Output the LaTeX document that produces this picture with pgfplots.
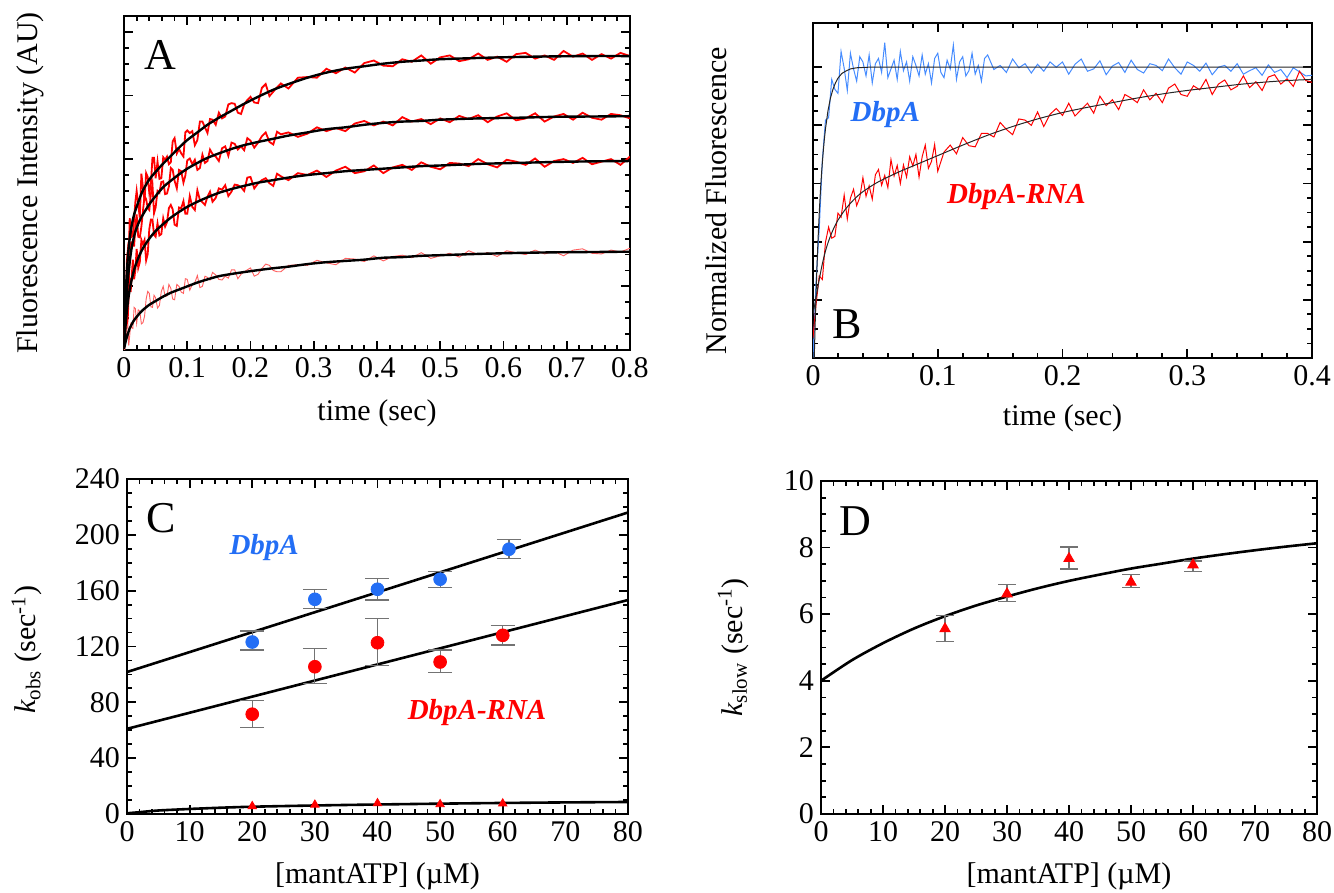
\documentclass[border=0pt]{standalone}
\usepackage{fontspec}
\setmainfont{Liberation Serif}
\usepackage{pgfplots}
\usepackage{pgfplotstable}
\pgfplotsset{compat=1.18}

\definecolor{kred}{RGB}{255,0,0}
\definecolor{kpink}{RGB}{255,95,95}
\definecolor{kblue}{RGB}{70,140,255}
\definecolor{kbluetxt}{RGB}{35,110,245}
\definecolor{kgray}{RGB}{115,115,115}

\pgfplotsset{
  panel/.style={
    scale only axis, anchor=south west,
    axis line style={line width=1.1pt},
    tick align=inside,
    major tick length=4.5pt, minor tick length=2.3pt,
    tick style={black, line width=0.9pt},
    tick label style={font=\fontsize{15}{18}\selectfont},
    label style={font=\fontsize{15}{18}\selectfont},
    /pgf/number format/assume math mode=true,
    xlabel style={at={(axis description cs:0.5,-0.19)}, anchor=center},
  },
}

% panel A: four traces (noisy) and their fits
\pgfplotstableread{
t a1 a2 a3 a4
0 0.26 0.32 0.00 0.00
0.0015 0.22 0.25 0.40 0.01
0.003 0.65 0.64 0.54 0.23
0.0045 1.40 0.92 0.36 0.38
0.006 1.56 0.86 0.51 0.40
0.0075 1.43 0.97 0.88 0.07
0.009 2.07 1.56 1.13 0.22
0.0105 1.96 1.68 0.91 0.40
0.012 1.78 1.69 1.13 0.35
0.014 1.80 1.64 1.42 0.34
0.016 2.06 1.64 1.11 0.67
0.018 2.33 1.95 1.26 0.65
0.020 2.50 2.13 1.59 0.42
0.0225 2.29 1.78 1.29 0.63
0.025 2.08 1.77 1.38 0.61
0.0275 2.77 1.94 1.73 0.41
0.030 2.55 2.19 1.66 0.43
0.0325 2.35 2.42 1.73 0.53
0.035 2.78 2.37 1.41 0.80
0.0375 2.72 2.23 1.51 0.92
0.040 2.47 2.20 1.90 0.89
0.0425 2.61 2.45 2.05 0.68
0.045 3.02 2.60 2.05 0.67
0.0475 3.02 2.15 1.81 0.86
0.050 2.70 2.24 1.78 0.82
0.053 2.96 2.50 1.99 0.66
0.056 2.69 2.47 1.80 0.70
0.059 2.70 2.64 1.82 0.92
0.062 3.03 2.65 2.07 1.00
0.065 2.99 2.45 1.94 0.84
0.068 3.04 2.46 2.01 0.85
0.071 2.92 2.57 2.23 1.03
0.074 2.95 2.86 2.28 0.97
0.077 3.28 2.83 2.21 0.80
0.080 3.33 2.66 1.97 0.79
0.0835 3.09 2.54 1.95 1.03
0.087 3.16 2.83 2.24 1.00
0.0905 3.09 2.81 2.23 0.91
0.094 3.04 2.63 2.34 0.89
0.097 3.42 2.74 2.14 1.12
0.100 3.45 2.98 2.14 1.11
0.104 3.41 3.01 2.42 0.94
0.108 3.44 2.92 2.25 1.03
0.112 3.22 2.99 2.20 1.06
0.116 3.30 2.83 2.51 1.17
0.120 3.59 2.86 2.36 0.98
0.124 3.59 3.07 2.32 1.00
0.128 3.50 2.94 2.28 1.16
0.132 3.41 2.97 2.41 1.14
0.136 3.63 3.15 2.49 1.10
0.140 3.62 3.08 2.33 1.22
0.145 3.54 3.04 2.39 1.18
0.150 3.73 2.97 2.54 1.11
0.155 3.64 3.17 2.52 1.10
0.160 3.67 3.20 2.59 1.16
0.165 3.86 3.05 2.42 1.13
0.170 3.88 3.26 2.49 1.26
0.175 3.87 3.24 2.60 1.26
0.180 3.73 3.15 2.59 1.12
0.185 3.71 3.20 2.56 1.19
0.190 3.86 3.14 2.50 1.23
0.195 3.93 3.33 2.71 1.26
0.200 3.98 3.29 2.72 1.29
0.206 3.89 3.18 2.54 1.16
0.212 3.88 3.26 2.62 1.19
0.218 4.12 3.36 2.67 1.28
0.224 4.18 3.42 2.70 1.35
0.230 3.99 3.27 2.62 1.33
0.236 4.06 3.23 2.58 1.25
0.242 4.13 3.43 2.77 1.23
0.248 4.19 3.39 2.73 1.23
0.260 4.11 3.42 2.67 1.33
0.275 4.28 3.35 2.78 1.34
0.290 4.29 3.40 2.75 1.33
0.305 4.28 3.50 2.82 1.41
0.320 4.42 3.44 2.72 1.37
0.335 4.35 3.49 2.82 1.34
0.350 4.44 3.44 2.88 1.44
0.365 4.36 3.56 2.78 1.43
0.380 4.51 3.60 2.81 1.39
0.395 4.55 3.53 2.90 1.48
0.410 4.47 3.59 2.78 1.40
0.425 4.46 3.53 2.87 1.47
0.440 4.57 3.66 2.91 1.49
0.455 4.53 3.59 2.83 1.45
0.470 4.63 3.63 2.95 1.53
0.485 4.50 3.55 2.88 1.44
0.500 4.60 3.64 2.84 1.48
0.515 4.63 3.58 2.94 1.52
0.530 4.54 3.68 2.93 1.46
0.545 4.57 3.63 2.89 1.56
0.560 4.66 3.69 3.00 1.50
0.575 4.56 3.58 2.92 1.53
0.590 4.61 3.67 2.87 1.47
0.605 4.53 3.72 2.99 1.56
0.620 4.65 3.61 2.96 1.53
0.635 4.67 3.64 2.91 1.50
0.650 4.58 3.72 3.01 1.57
0.665 4.63 3.59 2.88 1.51
0.680 4.56 3.67 2.97 1.55
0.695 4.70 3.71 3.00 1.48
0.710 4.61 3.62 2.94 1.57
0.725 4.66 3.73 3.02 1.59
0.740 4.56 3.65 2.92 1.52
0.755 4.65 3.62 2.96 1.51
0.770 4.58 3.71 3.00 1.57
0.785 4.67 3.69 2.91 1.54
0.800 4.62 3.64 3.04 1.60
}\traceA

\pgfplotstableread{
t f1 f2 f3 f4
0 0.05 0.05 0.05 0.02
0.003 0.93 0.67 0.45 0.15
0.006 1.45 1.10 0.75 0.25
0.009 1.75 1.38 0.95 0.34
0.012 1.95 1.60 1.1 0.40
0.016 2.13 1.79 1.26 0.47
0.020 2.25 1.92 1.38 0.52
0.025 2.39 2.04 1.5 0.58
0.030 2.51 2.13 1.6 0.63
0.040 2.68 2.29 1.75 0.71
0.050 2.80 2.42 1.87 0.77
0.062 2.93 2.56 1.98 0.84
0.074 3.05 2.66 2.08 0.90
0.087 3.18 2.76 2.17 0.95
0.100 3.30 2.85 2.25 1.00
0.116 3.42 2.94 2.33 1.06
0.132 3.54 3.02 2.40 1.11
0.150 3.65 3.09 2.47 1.16
0.170 3.76 3.16 2.53 1.195
0.190 3.87 3.22 2.58 1.225
0.212 3.98 3.27 2.63 1.255
0.236 4.09 3.32 2.67 1.285
0.260 4.18 3.37 2.71 1.31
0.290 4.28 3.42 2.75 1.35
0.320 4.36 3.47 2.78 1.38
0.350 4.42 3.50 2.81 1.40
0.380 4.46 3.54 2.83 1.42
0.410 4.50 3.57 2.85 1.45
0.440 4.53 3.59 2.87 1.46
0.470 4.55 3.60 2.89 1.48
0.500 4.57 3.62 2.90 1.49
0.560 4.59 3.64 2.925 1.51
0.620 4.605 3.65 2.94 1.525
0.680 4.615 3.665 2.955 1.535
0.740 4.62 3.67 2.965 1.54
0.800 4.62 3.675 2.97 1.545
}\fitA

% panel B
\pgfplotstableread{
t y
0 0.0
0.0025 1.35
0.005 2.22
0.0075 3.40
0.01 4.09
0.0125 4.13
0.015 4.79
0.0175 4.62
0.02 4.55
0.0225 5.27
0.025 4.98
0.0275 4.60
0.03 5.24
0.0325 4.97
0.035 4.76
0.0375 5.18
0.04 5.09
0.0425 4.85
0.045 5.21
0.0475 4.73
0.05 5.06
0.0525 5.15
0.055 4.91
0.0575 5.42
0.06 4.82
0.0625 4.97
0.065 5.12
0.0675 4.79
0.07 5.27
0.0725 4.94
0.075 5.09
0.0775 4.76
0.08 5.18
0.0825 5.03
0.085 4.85
0.0875 5.21
0.09 4.88
0.0925 5.06
0.095 4.73
0.0975 5.15
0.1 5.24
0.1025 4.91
0.105 4.82
0.1075 5.12
0.11 4.97
0.1125 5.38
0.115 4.79
0.1175 5.09
0.12 5.18
0.1225 4.85
0.125 4.94
0.1275 5.24
0.13 4.88
0.1325 5.03
0.135 4.76
0.1375 5.15
0.14 5.21
0.145 4.96
0.15 5.03
0.155 4.91
0.16 5.14
0.165 4.99
0.17 5.06
0.175 4.90
0.18 5.05
0.185 4.93
0.19 5.09
0.195 5.00
0.2 5.09
0.205 4.88
0.21 5.05
0.215 5.14
0.22 4.93
0.225 4.97
0.23 5.11
0.235 4.87
0.24 5.02
0.245 5.08
0.25 4.91
0.255 5.12
0.26 4.96
0.265 4.90
0.27 5.06
0.275 5.03
0.28 4.94
0.285 5.14
0.29 4.99
0.295 4.88
0.3 5.09
0.305 5.03
0.31 4.93
0.315 5.07
0.32 4.87
0.325 5.00
0.33 5.03
0.335 4.93
0.34 5.06
0.345 4.88
0.35 4.94
0.355 4.99
0.36 4.86
0.365 5.04
0.37 4.91
0.375 4.96
0.38 4.82
0.385 4.99
0.39 4.92
0.395 4.85
0.4 4.86
}\blueB

\pgfplotstableread{
t y
0 0.35
0.0025 0.93
0.005 1.41
0.0075 1.35
0.01 1.99
0.0125 2.25
0.015 2.06
0.0175 2.09
0.02 2.49
0.0225 2.42
0.025 2.80
0.0275 2.39
0.03 2.75
0.0325 2.90
0.035 2.62
0.0375 2.76
0.04 3.10
0.0425 2.78
0.045 2.96
0.0475 2.73
0.05 3.15
0.0525 3.24
0.055 2.97
0.0575 3.14
0.06 2.93
0.0625 3.41
0.065 3.13
0.0675 3.31
0.07 3.00
0.0725 3.32
0.075 3.11
0.0775 3.46
0.08 3.30
0.0825 3.50
0.085 3.11
0.0875 3.46
0.09 3.66
0.0925 3.26
0.095 3.38
0.0975 3.67
0.1 3.21
0.105 3.54
0.11 3.66
0.115 3.51
0.12 3.79
0.125 3.65
0.13 3.63
0.135 3.86
0.14 3.86
0.145 3.80
0.15 4.05
0.155 3.93
0.16 3.84
0.165 4.11
0.17 4.09
0.175 4.00
0.18 4.23
0.185 3.98
0.19 4.19
0.195 4.29
0.2 4.17
0.205 4.38
0.21 4.16
0.215 4.27
0.22 4.38
0.225 4.21
0.23 4.50
0.235 4.34
0.24 4.44
0.245 4.27
0.25 4.53
0.255 4.47
0.26 4.39
0.265 4.61
0.27 4.44
0.275 4.55
0.28 4.39
0.285 4.64
0.29 4.71
0.295 4.53
0.3 4.50
0.305 4.68
0.31 4.61
0.315 4.79
0.32 4.53
0.325 4.71
0.33 4.78
0.335 4.61
0.34 4.67
0.345 4.85
0.35 4.65
0.355 4.75
0.36 4.60
0.365 4.83
0.37 4.87
0.375 4.71
0.38 4.80
0.385 4.67
0.39 4.93
0.395 4.77
0.4 4.74
}\redB

\pgfplotstableread{
t y
0 0
0.001 0
0.002 0.79
0.003 1.46
0.004 2.02
0.005 2.49
0.006 2.89
0.007 3.22
0.008 3.50
0.009 3.74
0.010 3.94
0.012 4.25
0.014 4.47
0.016 4.62
0.018 4.73
0.020 4.81
0.023 4.89
0.026 4.93
0.030 4.97
0.035 4.99
0.045 5.0
0.4 5.0
}\bluefitB

\pgfplotstableread{
t y
0 0.75
0.0025 1.05
0.005 1.35
0.0075 1.62
0.01 1.84
0.0125 2.01
0.015 2.15
0.0175 2.27
0.02 2.37
0.025 2.53
0.03 2.66
0.035 2.77
0.04 2.86
0.05 3.00
0.06 3.11
0.07 3.21
0.08 3.30
0.09 3.39
0.1 3.48
0.12 3.66
0.14 3.83
0.16 3.98
0.18 4.11
0.2 4.22
0.22 4.31
0.24 4.39
0.26 4.47
0.28 4.54
0.3 4.60
0.32 4.65
0.34 4.70
0.36 4.74
0.38 4.77
0.4 4.79
}\redfitB

% panels C and D
\pgfplotstableread{
x y ep em
20 123.2 7.9 5.7
30 153.8 7.2 6.8
40 161.0 7.9 7.7
50 168.2 5.5 5.8
61 189.7 7.0 6.4
}\kobsBlue

\pgfplotstableread{
x y ep em
20 71.5 9.8 9.3
30 105.5 13.2 12.0
40 122.7 17.3 16.2
50 108.9 8.6 7.7
60 128.0 7.2 7.0
}\kobsRed

\pgfplotstableread{
x y ep em
20 5.56 0.41 0.37
30 6.61 0.28 0.23
40 7.67 0.35 0.31
50 6.96 0.23 0.17
60 7.48 0.12 0.20
}\kslow

\pgfplotstableread{
x y
0 4.00
5 4.62
10 5.13
15 5.57
20 5.94
25 6.26
30 6.53
35 6.78
40 7.00
45 7.19
50 7.37
55 7.52
60 7.67
65 7.80
70 7.92
75 8.03
80 8.13
}\kslowfit

\pgfplotstableread{
x y
0 0.5
2 1.3
5 2.5
10 3.6
15 4.5
20 5.2
30 6.1
40 6.8
50 7.4
60 7.9
70 8.3
80 8.6
}\kslowfitC

\begin{document}
\begin{tikzpicture}
\path[use as bounding box] (0,0) rectangle (667pt,446.5pt);

% ---- A ----
\begin{axis}[panel, at={(62pt,271.5pt)}, width=253pt, height=167pt,
  xmin=0, xmax=0.8, ymin=0, ymax=5.25,
  xtick={0,0.1,0.2,0.3,0.4,0.5,0.6,0.7,0.8}, minor x tick num=4,
  ytick={0,1,2,3,4,5}, minor y tick num=3, yticklabels={},
  xlabel={time (sec)}, ylabel={Fluorescence Intensity (AU)},
  ylabel style={at={(axis description cs:-0.186,0.5)}, anchor=center},
]
\addplot[kred, line width=0.9pt] table[x=t, y=a1] {\traceA};
\addplot[kred, line width=0.9pt] table[x=t, y=a2] {\traceA};
\addplot[kred, line width=0.9pt] table[x=t, y=a3] {\traceA};
\addplot[kpink, line width=0.45pt] table[x=t, y=a4] {\traceA};
\addplot[black, line width=1.2pt, smooth] table[x=t, y=f1] {\fitA};
\addplot[black, line width=1.2pt, smooth] table[x=t, y=f2] {\fitA};
\addplot[black, line width=1.2pt, smooth] table[x=t, y=f3] {\fitA};
\addplot[black, line width=1.2pt, smooth] table[x=t, y=f4] {\fitA};
\node[font=\fontsize{22}{24}\selectfont] at (axis cs:0.058,4.63) {A};
\end{axis}

% ---- B ----
\begin{axis}[panel, at={(406.5pt,267.5pt)}, width=249.5pt, height=167.5pt,
  xmin=0, xmax=0.4, ymin=0, ymax=5.76,
  xtick={0,0.1,0.2,0.3,0.4}, minor x tick num=4,
  ytick={0,1,2,3,4,5}, minor y tick num=3, yticklabels={},
  xlabel={time (sec)}, ylabel={Normalized Fluorescence},
  xlabel style={at={(axis description cs:0.5,-0.18)}},
  ylabel style={at={(axis description cs:-0.194,0.47)}, anchor=center},
]
\addplot[kblue, line width=0.5pt] table[x=t, y=y] {\blueB};
\addplot[kred, line width=0.5pt] table[x=t, y=y] {\redB};
\addplot[black!85, line width=0.5pt] table[x=t, y=y] {\bluefitB};
\addplot[black!85, line width=0.5pt, smooth] table[x=t, y=y] {\redfitB};
\node[font=\fontsize{14.5}{16}\selectfont\bfseries\itshape, text=kbluetxt] at (axis cs:0.058,4.18) {DbpA};
\node[font=\fontsize{14.5}{16}\selectfont\bfseries\itshape, text=kred] at (axis cs:0.163,2.78) {DbpA-RNA};
\node[font=\fontsize{22}{24}\selectfont] at (axis cs:0.027,0.59) {B};
\end{axis}

% ---- C ----
\begin{axis}[panel, at={(63.5pt,39.5pt)}, width=250.5pt, height=167.5pt,
  xmin=0, xmax=80, ymin=0, ymax=240,
  xtick={0,10,...,80}, minor x tick num=4,
  ytick={0,40,...,240}, minor y tick num=3,
  xlabel={[mantATP] (µM)},
  ylabel={\textit{k}\textsubscript{obs} (sec\textsuperscript{-1})},
  xlabel style={at={(axis description cs:0.5,-0.185)}},
  ylabel style={at={(axis description cs:-0.2,0.49)}, anchor=center},
]
\addplot[black, line width=1.3pt] coordinates {(0,101.7) (80,216)};
\addplot[black, line width=1.3pt] coordinates {(0,61) (80,153.3)};
\addplot[black, line width=1.3pt, smooth] table[x=x, y=y] {\kslowfitC};
\addplot[kbluetxt, only marks, mark=*, mark size=3.2pt,
  error bars/.cd, y dir=both, y explicit,
  error bar style={kgray, line width=0.6pt},
  error mark options={kgray, rotate=90, mark size=6pt, line width=0.6pt}]
  table[x=x, y=y, y error plus=ep, y error minus=em] {\kobsBlue};
\addplot[kred, only marks, mark=*, mark size=3.2pt,
  error bars/.cd, y dir=both, y explicit,
  error bar style={kgray, line width=0.6pt},
  error mark options={kgray, rotate=90, mark size=6pt, line width=0.6pt}]
  table[x=x, y=y, y error plus=ep, y error minus=em] {\kobsRed};
\addplot[kred, only marks, mark=triangle*, mark size=2.4pt] table[x=x, y=y] {\kslow};
\node[font=\fontsize{22}{24}\selectfont] at (axis cs:5.5,212) {C};
\node[font=\fontsize{14.5}{16}\selectfont\bfseries\itshape, text=kbluetxt] at (axis cs:21.9,191) {DbpA};
\node[font=\fontsize{14.5}{16}\selectfont\bfseries\itshape, text=kred] at (axis cs:55.9,72.5) {DbpA-RNA};
\end{axis}

% ---- D ----
\begin{axis}[panel, at={(410.5pt,39.5pt)}, width=248pt, height=166.5pt,
  xmin=0, xmax=80, ymin=0, ymax=10,
  xtick={0,10,...,80}, minor x tick num=4,
  ytick={0,2,...,10}, minor y tick num=3,
  xlabel={[mantATP] (µM)},
  ylabel={\textit{k}\textsubscript{slow} (sec\textsuperscript{-1})},
  xlabel style={at={(axis description cs:0.5,-0.186)}},
  ylabel style={at={(axis description cs:-0.177,0.5)}, anchor=center},
]
\addplot[black, line width=1.3pt, smooth] table[x=x, y=y] {\kslowfit};
\addplot[kred, only marks, mark=triangle*, mark size=3pt,
  error bars/.cd, y dir=both, y explicit,
  error bar style={kgray, line width=0.6pt},
  error mark options={kgray, rotate=90, mark size=4.3pt, line width=0.6pt}]
  table[x=x, y=y, y error plus=ep, y error minus=em] {\kslow};
\node[font=\fontsize{22}{24}\selectfont] at (axis cs:5.6,8.8) {D};
\end{axis}
\end{tikzpicture}
\end{document}
